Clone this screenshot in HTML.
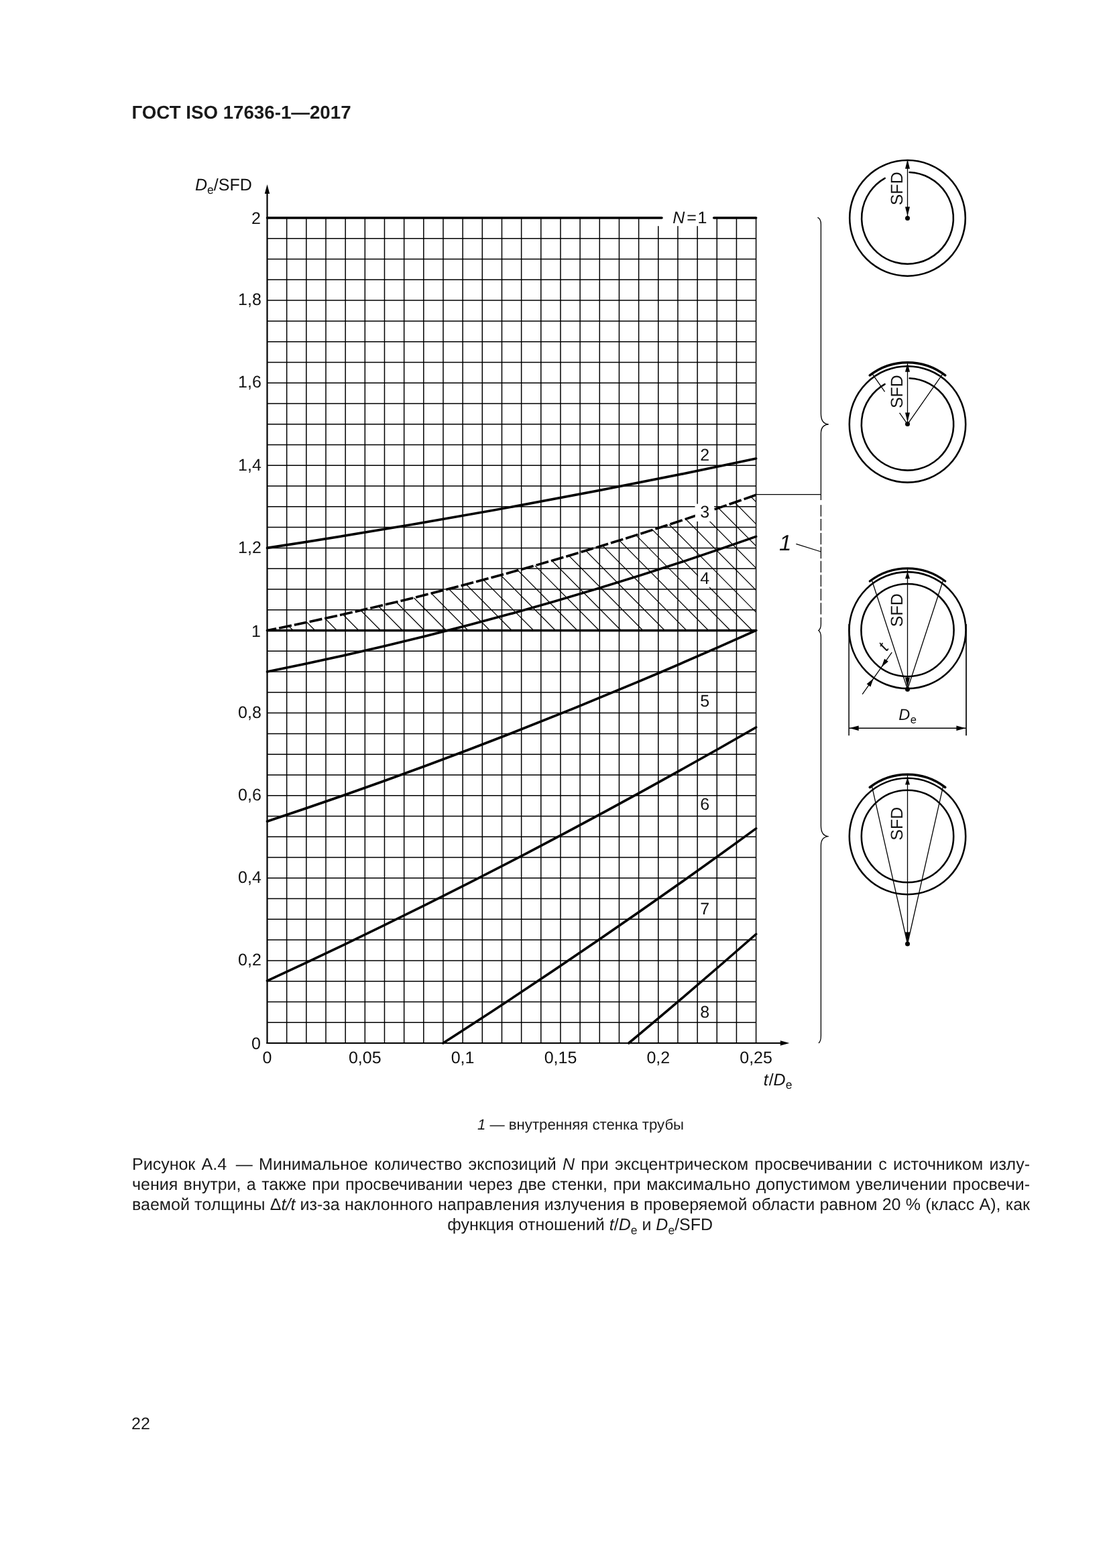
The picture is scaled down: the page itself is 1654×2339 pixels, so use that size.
<!DOCTYPE html>
<html lang="ru">
<head>
<meta charset="utf-8">
<title>ГОСТ ISO 17636-1—2017</title>
<style>
html,body{margin:0;padding:0;background:#fff;}
body{width:1654px;height:2339px;position:relative;overflow:hidden;font-family:"Liberation Sans",sans-serif;color:#1a1a1a;text-rendering:geometricPrecision;}
.hdr{position:absolute;left:196.5px;top:147.8px;font-size:27.7px;font-weight:bold;line-height:40px;white-space:nowrap;}
svg{position:absolute;left:0;top:0;}
svg text{font-family:"Liberation Sans",sans-serif;fill:#111;text-rendering:geometricPrecision;}
.leg{position:absolute;left:0;width:1732px;top:1663px;text-align:center;font-size:22.2px;line-height:30px;white-space:nowrap;}
.cap{position:absolute;left:197px;width:1339px;font-size:25px;line-height:30px;white-space:nowrap;}
.j{text-align:justify;text-align-last:justify;}
.c{text-align:center;}
sub{font-size:17.5px;vertical-align:baseline;position:relative;top:6px;line-height:0;}
.pn{position:absolute;left:196px;top:2109px;font-size:25px;line-height:30px;}
</style>
</head>
<body>
<div class="hdr">ГОСТ ISO 17636-1—2017</div>
<svg width="1654" height="2339" viewBox="0 0 1654 2339">
<path d="M427.66 325.00V1556.00M456.83 325.00V1556.00M485.99 325.00V1556.00M515.16 325.00V1556.00M544.32 325.00V1556.00M573.48 325.00V1556.00M602.65 325.00V1556.00M631.81 325.00V1556.00M660.98 325.00V1556.00M690.14 325.00V1556.00M719.30 325.00V1556.00M748.47 325.00V1556.00M777.63 325.00V1556.00M806.80 325.00V1556.00M835.96 325.00V1556.00M865.12 325.00V1556.00M894.29 325.00V1556.00M923.45 325.00V1556.00M952.62 325.00V1556.00M981.78 325.00V1556.00M1010.94 325.00V1556.00M1040.11 325.00V1556.00M1069.27 325.00V1556.00M1098.44 325.00V1556.00M1127.60 325.00V1556.00M398.50 1525.22H1127.60M398.50 1494.45H1127.60M398.50 1463.67H1127.60M398.50 1432.90H1127.60M398.50 1402.12H1127.60M398.50 1371.35H1127.60M398.50 1340.58H1127.60M398.50 1309.80H1127.60M398.50 1279.03H1127.60M398.50 1248.25H1127.60M398.50 1217.47H1127.60M398.50 1186.70H1127.60M398.50 1155.92H1127.60M398.50 1125.15H1127.60M398.50 1094.38H1127.60M398.50 1063.60H1127.60M398.50 1032.83H1127.60M398.50 1002.05H1127.60M398.50 971.27H1127.60M398.50 940.50H1127.60M398.50 909.73H1127.60M398.50 878.95H1127.60M398.50 848.18H1127.60M398.50 817.40H1127.60M398.50 786.62H1127.60M398.50 755.85H1127.60M398.50 725.08H1127.60M398.50 694.30H1127.60M398.50 663.53H1127.60M398.50 632.75H1127.60M398.50 601.98H1127.60M398.50 571.20H1127.60M398.50 540.43H1127.60M398.50 509.65H1127.60M398.50 478.88H1127.60M398.50 448.10H1127.60M398.50 417.33H1127.60M398.50 386.55H1127.60M398.50 355.78H1127.60" stroke="#000" stroke-width="1.5" fill="none"/>
<clipPath id="hc"><path d="M398.50 940.50L405.79 939.03L413.08 937.55L420.37 936.06L427.66 934.56L434.95 933.05L442.25 931.53L449.54 929.99L456.83 928.44L464.12 926.89L471.41 925.32L478.70 923.74L485.99 922.15L493.28 920.55L500.57 918.93L507.87 917.31L515.16 915.67L522.45 914.03L529.74 912.37L537.03 910.70L544.32 909.02L551.61 907.33L558.90 905.62L566.19 903.91L573.48 902.18L580.77 900.45L588.07 898.70L595.36 896.94L602.65 895.17L609.94 893.39L617.23 891.60L624.52 889.79L631.81 887.98L639.10 886.15L646.39 884.31L653.68 882.46L660.98 880.60L668.27 878.73L675.56 876.85L682.85 874.96L690.14 873.05L697.43 871.14L704.72 869.21L712.01 867.27L719.30 865.32L726.60 863.36L733.89 861.39L741.18 859.41L748.47 857.41L755.76 855.41L763.05 853.39L770.34 851.36L777.63 849.32L784.92 847.27L792.21 845.21L799.50 843.14L806.80 841.06L814.09 838.96L821.38 836.85L828.67 834.74L835.96 832.61L843.25 830.47L850.54 828.32L857.83 826.16L865.12 823.98L872.41 821.80L879.71 819.60L887.00 817.39L894.29 815.18L901.58 812.95L908.87 810.71L916.16 808.45L923.45 806.19L930.74 803.92L938.03 801.63L945.32 799.33L952.62 797.03L959.91 794.71L967.20 792.38L974.49 790.04L981.78 787.68L989.07 785.32L996.36 782.94L1003.65 780.56L1010.94 778.16L1018.23 775.75L1025.53 773.33L1032.82 770.90L1040.11 768.46L1047.40 766.00L1054.69 763.54L1061.98 761.06L1069.27 758.58L1076.56 756.08L1083.85 753.57L1091.14 751.05L1098.44 748.52L1105.73 745.97L1113.02 743.42L1120.31 740.85L1127.60 738.28L1127.60 940.50Z"/></clipPath>
<path d="M404.70 940.50L144.70 677.90M437.30 940.50L177.30 677.90M469.90 940.50L209.90 677.90M502.50 940.50L242.50 677.90M535.10 940.50L275.10 677.90M567.70 940.50L307.70 677.90M600.30 940.50L340.30 677.90M632.90 940.50L372.90 677.90M665.50 940.50L405.50 677.90M698.10 940.50L438.10 677.90M730.70 940.50L470.70 677.90M763.30 940.50L503.30 677.90M795.90 940.50L535.90 677.90M828.50 940.50L568.50 677.90M861.10 940.50L601.10 677.90M893.70 940.50L633.70 677.90M926.30 940.50L666.30 677.90M958.90 940.50L698.90 677.90M991.50 940.50L731.50 677.90M1024.10 940.50L764.10 677.90M1056.70 940.50L796.70 677.90M1089.30 940.50L829.30 677.90M1121.90 940.50L861.90 677.90M1154.50 940.50L894.50 677.90M1187.10 940.50L927.10 677.90M1219.70 940.50L959.70 677.90M1252.30 940.50L992.30 677.90M1284.90 940.50L1024.90 677.90M1317.50 940.50L1057.50 677.90M1350.10 940.50L1090.10 677.90M1382.70 940.50L1122.70 677.90M1415.30 940.50L1155.30 677.90" stroke="#000" stroke-width="1.2" fill="none" clip-path="url(#hc)"/>
<rect x="1036.7" y="751.8" width="28.4" height="25.8" fill="#fff"/>
<rect x="1041.1" y="853" width="17" height="23.5" fill="#fff"/>
<path d="M398.50 817.40Q763.05 761.61 1127.60 684.08" stroke="#000" stroke-width="3.6" fill="none" stroke-linecap="round"/>
<path id="c3" d="M398.50 940.50Q763.05 867.39 1127.60 738.28" stroke="#000" stroke-width="3.6" fill="none" stroke-dasharray="19.129 4.1" stroke-dashoffset="5.2"/>
<path d="M398.50 1002.05Q763.05 929.21 1127.60 800.41" stroke="#000" stroke-width="3.6" fill="none" stroke-linecap="round"/>
<path d="M398.50 1225.23Q763.05 1104.44 1127.60 940.35" stroke="#000" stroke-width="3.6" fill="none" stroke-linecap="round"/>
<path d="M398.50 1463.06Q763.05 1295.08 1127.60 1084.95" stroke="#000" stroke-width="3.6" fill="none" stroke-linecap="round"/>
<path d="M660.88 1556.00Q894.24 1406.27 1127.60 1235.89" stroke="#000" stroke-width="3.6" fill="none" stroke-linecap="round"/>
<path d="M937.76 1556.00Q1032.68 1476.90 1127.60 1393.50" stroke="#000" stroke-width="3.6" fill="none" stroke-linecap="round"/>
<rect x="1036.7" y="751.8" width="28.4" height="25.8" fill="#fff"/>
<path d="M398.50 940.50H1127.60" stroke="#000" stroke-width="3.6" stroke-linecap="round"/>
<rect x="980" y="305" width="83.5" height="32.2" fill="#fff"/>
<path d="M398.50 325.00H987M1064.7 325.00H1127.60" stroke="#000" stroke-width="3.6" stroke-linecap="round"/>
<path d="M398.50 1557.10V285" stroke="#000" stroke-width="2.2"/>
<path d="M397.40 1556.00H1166" stroke="#000" stroke-width="2.2"/>
<path d="M398.50 275L394.80 289H402.20Z" fill="#000"/>
<path d="M1177.4 1556.00L1163.8 1552.30V1559.70Z" fill="#000"/>
<text x="389.0" y="1565.1" font-size="25" text-anchor="end">0</text>
<text x="389.8" y="1440.1" font-size="25" text-anchor="end">0,2</text>
<text x="389.8" y="1317.0" font-size="25" text-anchor="end">0,4</text>
<text x="389.8" y="1193.9" font-size="25" text-anchor="end">0,6</text>
<text x="389.8" y="1070.8" font-size="25" text-anchor="end">0,8</text>
<text x="389.0" y="949.6" font-size="25" text-anchor="end">1</text>
<text x="389.8" y="824.6" font-size="25" text-anchor="end">1,2</text>
<text x="389.8" y="701.5" font-size="25" text-anchor="end">1,4</text>
<text x="389.8" y="578.4" font-size="25" text-anchor="end">1,6</text>
<text x="389.8" y="455.3" font-size="25" text-anchor="end">1,8</text>
<text x="389.0" y="334.1" font-size="25" text-anchor="end">2</text>
<text x="398.5" y="1585.9" font-size="25" text-anchor="middle">0</text>
<text x="544.3" y="1585.9" font-size="25" text-anchor="middle">0,05</text>
<text x="690.1" y="1585.9" font-size="25" text-anchor="middle">0,1</text>
<text x="836.0" y="1585.9" font-size="25" text-anchor="middle">0,15</text>
<text x="981.8" y="1585.9" font-size="25" text-anchor="middle">0,2</text>
<text x="1127.6" y="1585.9" font-size="25" text-anchor="middle">0,25</text>
<text x="1044.3" y="686.8" font-size="25" text-anchor="start">2</text>
<text x="1044.3" y="771.6" font-size="25" text-anchor="start">3</text>
<text x="1044.3" y="871.4" font-size="25" text-anchor="start">4</text>
<text x="1044.3" y="1053.9" font-size="25" text-anchor="start">5</text>
<text x="1044.3" y="1208.0" font-size="25" text-anchor="start">6</text>
<text x="1044.3" y="1363.6" font-size="25" text-anchor="start">7</text>
<text x="1044.3" y="1518" font-size="25" text-anchor="start">8</text>
<text x="1003.2" y="332.8" font-size="25"><tspan font-style="italic">N</tspan><tspan dx="3">=</tspan><tspan dx="1.7">1</tspan></text>
<text x="291" y="284.3" font-size="25"><tspan font-style="italic">D</tspan><tspan font-size="17.5" dy="5">e</tspan><tspan dy="-5">/SFD</tspan></text>
<text x="1138.7" y="1618.9" font-size="25"><tspan font-style="italic">t</tspan><tspan dx="1">/</tspan><tspan font-style="italic">D</tspan><tspan font-size="17.5" dy="5">e</tspan></text>
<path d="M1219.4 324.3Q1224.4 326.2 1224.4 334.5V617Q1224.4 632.2 1235.7 633Q1224.4 633.8 1224.4 646.5V746" stroke="#000" stroke-width="1.3" fill="none"/>
<path d="M1224.4 753.2V916.7" stroke="#000" stroke-width="1.3" fill="none" stroke-dasharray="17.4 3.46"/>
<path d="M1224.4 920.9V931Q1224.4 937.6 1220.9 940.6Q1224.4 943.6 1224.4 950V1231.7Q1224.4 1246.9 1235.7 1247.7Q1224.4 1248.5 1224.4 1261.2V1545Q1224.4 1553.5 1220.9 1556" stroke="#000" stroke-width="1.3" fill="none"/>
<path d="M1127.6 737.7H1224.4" stroke="#000" stroke-width="1.3"/>
<text x="1162" y="820.8" font-size="33" font-style="italic">1</text>
<path d="M1187.3 811.3L1224.4 823" stroke="#000" stroke-width="1.3"/>
<circle cx="1353.5" cy="325.35" r="86.3" stroke="#000" stroke-width="2.55" fill="none"/>
<path d="M1356.60 257.02A68.4 68.4 0 1 1 1319.71 265.88" stroke="#000" stroke-width="2.55" fill="none" stroke-linecap="round"/>
<circle cx="1353.5" cy="325.55" r="3.5" fill="#000"/>
<path d="M1353.50 238.65L1353.50 325.35" stroke="#000" stroke-width="1.3" fill="none"/>
<path d="M1353.50 237.85L1357.00 251.65L1350.00 251.65Z" fill="#000"/>
<path d="M1353.50 322.35L1350.00 308.55L1357.00 308.55Z" fill="#000"/>
<text transform="translate(1345.8 281.3) rotate(-90)" font-size="25" text-anchor="middle">SFD</text>
<circle cx="1353.5" cy="632.9" r="86.7" stroke="#000" stroke-width="2.55" fill="none"/>
<path d="M1356.62 564.27A68.7 68.7 0 1 1 1319.57 573.17" stroke="#000" stroke-width="2.55" fill="none" stroke-linecap="round"/>
<path d="M1297.24 559.85A92.2 92.2 0 0 1 1409.76 559.85" stroke="#000" stroke-width="3.6" fill="none" stroke-linecap="round"/>
<circle cx="1353.5" cy="632.6" r="3.5" fill="#000"/>
<path d="M1353.50 540.70L1353.50 632.90" stroke="#000" stroke-width="1.3" fill="none"/>
<path d="M1353.50 541.20L1357.00 554.70L1350.00 554.70Z" fill="#000"/>
<path d="M1353.50 629.40L1350.00 615.40L1357.00 615.40Z" fill="#000"/>
<path d="M1353.50 632.90L1405.34 558.59" stroke="#000" stroke-width="1.3" fill="none"/>
<path d="M1301.66 558.59L1319.57 584.26" stroke="#000" stroke-width="1.3" fill="none"/>
<path d="M1341.60 615.84L1353.50 632.90" stroke="#000" stroke-width="1.3" fill="none"/>
<text transform="translate(1345.8 584.1) rotate(-90)" font-size="25" text-anchor="middle">SFD</text>
<circle cx="1353.5" cy="940.1" r="87.0" stroke="#000" stroke-width="2.55" fill="none"/>
<circle cx="1353.5" cy="940.1" r="69.10000000000001" stroke="#000" stroke-width="2.55" fill="none"/>
<path d="M1297.24 867.05A92.2 92.2 0 0 1 1409.76 867.05" stroke="#000" stroke-width="3.2" fill="none" stroke-linecap="round"/>
<circle cx="1353.5" cy="1028.2" r="3.5" fill="#000"/>
<path d="M1353.50 847.90L1353.50 1028.20" stroke="#000" stroke-width="1.3" fill="none"/>
<path d="M1353.50 852.40L1357.00 863.20L1350.00 863.20Z" fill="#000"/>
<path d="M1353.50 1026.20L1350.00 1010.70L1357.00 1010.70Z" fill="#000"/>
<path d="M1353.50 1028.20L1406.37 866.53" stroke="#000" stroke-width="1.3" fill="none"/>
<path d="M1353.50 1028.20L1300.63 866.53" stroke="#000" stroke-width="1.3" fill="none"/>
<text transform="translate(1345.8 910.2) rotate(-90)" font-size="25" text-anchor="middle">SFD</text>
<path d="M1266.10 931.10L1266.10 1097.30" stroke="#000" stroke-width="1.5" fill="none"/>
<path d="M1441.00 931.10L1441.00 1097.30" stroke="#000" stroke-width="1.7" fill="none"/>
<path d="M1266.10 1086.20L1441.00 1086.20" stroke="#000" stroke-width="1.4" fill="none"/>
<path d="M1266.90 1086.20L1280.70 1082.40L1280.70 1090.00Z" fill="#000"/>
<path d="M1440.20 1086.20L1426.40 1090.00L1426.40 1082.40Z" fill="#000"/>
<text x="1340.2" y="1073.5" font-size="23.5"><tspan font-style="italic">D</tspan><tspan font-size="16.6" dy="5.2" dx="0.5">e</tspan></text>
<path d="M1286.17 1035.54L1330.21 973.11" stroke="#000" stroke-width="1.3" fill="none"/>
<path d="M1302.79 1011.99L1298.33 1024.38L1292.61 1020.35Z" fill="#000"/>
<path d="M1314.63 995.20L1319.09 982.80L1324.81 986.84Z" fill="#000"/>
<text transform="translate(1324.2 969.7) rotate(-54.8)" font-size="25" font-style="italic" text-anchor="middle">t</text>
<circle cx="1353.5" cy="1247.5" r="86.7" stroke="#000" stroke-width="2.55" fill="none"/>
<circle cx="1353.5" cy="1247.5" r="68.7" stroke="#000" stroke-width="2.55" fill="none"/>
<path d="M1297.24 1174.45A92.2 92.2 0 0 1 1409.76 1174.45" stroke="#000" stroke-width="3.6" fill="none" stroke-linecap="round"/>
<circle cx="1353.5" cy="1408" r="3.5" fill="#000"/>
<path d="M1353.50 1155.30L1353.50 1408.00" stroke="#000" stroke-width="1.3" fill="none"/>
<path d="M1353.50 1159.80L1357.00 1170.60L1350.00 1170.60Z" fill="#000"/>
<path d="M1353.50 1406.00L1350.00 1390.50L1357.00 1390.50Z" fill="#000"/>
<path d="M1353.50 1408.00L1406.37 1173.93" stroke="#000" stroke-width="1.3" fill="none"/>
<path d="M1353.50 1408.00L1300.63 1173.93" stroke="#000" stroke-width="1.3" fill="none"/>
<text transform="translate(1345.8 1228.7) rotate(-90)" font-size="25" text-anchor="middle">SFD</text>
</svg>
<div class="leg"><i>1</i> — внутренняя стенка трубы</div>
<div class="cap j" style="top:1722px">Рисунок А.4<span style="display:inline-block;width:4.5px"></span> — Минимальное количество экспозиций <i>N</i> при эксцентрическом просвечивании с источником излу-</div>
<div class="cap j" style="top:1752px">чения внутри, а также при просвечивании через две стенки, при максимально допустимом увеличении просвечи-</div>
<div class="cap j" style="top:1782px">ваемой толщины Δ<i>t/t</i> из-за наклонного направления излучения в проверяемой области равном 20 % (класс А), как</div>
<div class="cap c" style="top:1812px;left:195.7px">функция отношений <i>t</i>/<i>D</i><sub>e</sub> и <i>D</i><sub>e</sub>/SFD</div>
<div class="pn">22</div>
</body>
</html>
